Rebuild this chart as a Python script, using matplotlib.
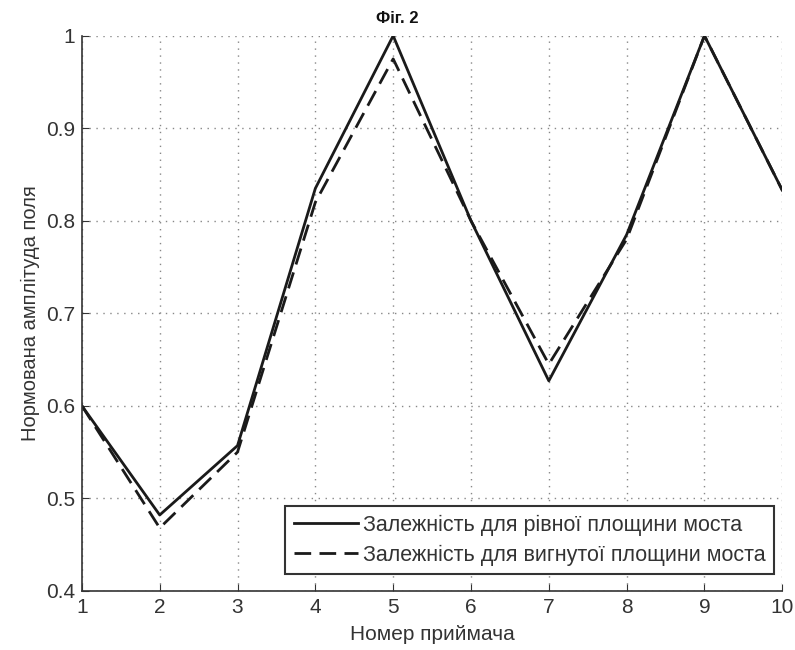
import matplotlib
matplotlib.use("Agg")
import matplotlib.pyplot as plt

receivers = [1, 2, 3, 4, 5, 6, 7, 8, 9, 10]
flat_plane = [0.600, 0.482, 0.557, 0.835, 1.000, 0.800, 0.627, 0.785, 1.000, 0.833]
curved_plane = [0.600, 0.468, 0.550, 0.820, 0.975, 0.800, 0.645, 0.780, 1.000, 0.833]
x_ticks = [1, 2, 3, 4, 5, 6, 7, 8, 9, 10]
y_ticks = [0.4, 0.5, 0.6, 0.7, 0.8, 0.9, 1.0]
y_tick_labels = ["0.4", "0.5", "0.6", "0.7", "0.8", "0.9", "1"]

plt.rcParams["font.family"] = ["Liberation Sans", "DejaVu Sans"]

fig = plt.figure(figsize=(7.95, 6.5), dpi=100)
ax = fig.add_axes([0.103, 0.091, 0.881, 0.854])

ax.plot(receivers, flat_plane, color="#1a1a1a", linewidth=2.0, linestyle="-",
        label="Залежність для рівної площини моста")
ax.plot(receivers, curved_plane, color="#1a1a1a", linewidth=2.0, linestyle=(0, (6, 3)),
        label="Залежність для вигнутої площини моста")

ax.set_xlim(1, 10)
ax.set_ylim(0.4, 1.0)
ax.set_xticks(x_ticks)
ax.set_yticks(y_ticks)
ax.set_yticklabels(y_tick_labels)
ax.tick_params(direction="in", labelsize=15, colors="#333333", length=5, pad=5)

ax.grid(True, color="#888888", linestyle=(0, (1, 4)), linewidth=1.0)
ax.set_axisbelow(True)
ax.spines["top"].set_visible(False)
ax.spines["right"].set_visible(False)
for s in ("left", "bottom"):
    ax.spines[s].set_color("#333333")
    ax.spines[s].set_linewidth(1.2)

ax.set_xlabel("Номер приймача", fontsize=15, color="#333333", labelpad=6)
ax.set_ylabel("Нормована амплітуда поля", fontsize=14.5, color="#333333", labelpad=4)
fig.text(0.5, 0.972, "Фіг. 2", ha="center", va="center", fontsize=12,
         fontweight="bold", color="#111111")

leg = ax.legend(loc="lower right", bbox_to_anchor=(0.988, 0.03), borderaxespad=0,
                fontsize=15.5, fancybox=False, framealpha=1.0, edgecolor="#333333",
                handlelength=3.0, handletextpad=0.2, borderpad=0.4,
                labelspacing=0.4)
leg.get_frame().set_linewidth(1.5)
for t in leg.get_texts():
    t.set_color("#333333")

fig.savefig("out.png", dpi=100, facecolor="white")
